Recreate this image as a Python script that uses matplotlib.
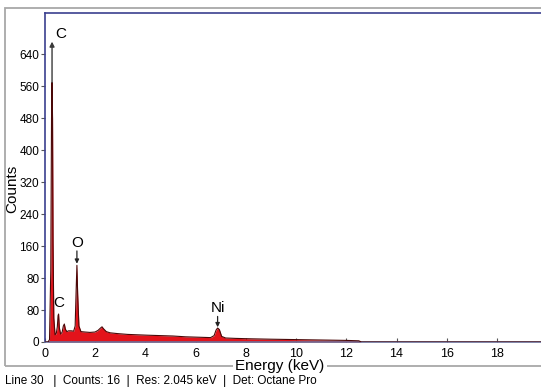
import matplotlib
matplotlib.use("Agg")
import matplotlib.pyplot as plt
from matplotlib.patches import Rectangle

plt.rcParams['font.family'] = ['Liberation Sans Narrow', 'Liberation Sans', 'DejaVu Sans']

# Spectrum (energy in keV, counts)
energy = [0.00, 0.13, 0.19, 0.24, 0.27, 0.29, 0.31, 0.33, 0.36, 0.41, 0.46, 0.50, 0.53, 0.55, 0.58,
          0.63, 0.69, 0.74, 0.78, 0.82, 0.88, 0.95, 1.05, 1.15, 1.21, 1.25, 1.28, 1.31, 1.36, 1.44,
          1.60, 1.80, 2.00, 2.12, 2.22, 2.28, 2.34, 2.45, 2.60, 2.90, 3.30, 3.70, 4.10, 4.60, 5.10,
          5.60, 6.10, 6.60, 6.74, 6.82, 6.88, 6.95, 7.04, 7.20, 7.60, 8.20, 9.00, 10.0, 11.0, 12.0,
          12.5, 12.6, 20.0]
counts = [0, 0, 6, 180, 560, 650, 560, 250, 60, 18, 22, 38, 66, 70, 36,
          20, 24, 40, 45, 32, 26, 28, 28, 27, 40, 130, 192, 120, 40, 26,
          25, 24, 25, 29, 35, 38, 33, 26, 23, 21, 19, 18, 17, 16, 15,
          13, 12, 11, 16, 30, 35, 31, 14, 10, 9, 8, 7, 6, 5, 4,
          3, 0, 0]

# Peak labels: (text, energy, label height, arrow start, arrow tip)
peak_names = ['C', 'O', 'Ni']
peak_energy = [0.29, 1.28, 6.88]
label_y = [772, 247, 85]
arrow_start = [650, 228, 64]
arrow_tip = [752, 196, 37]
small_c_label = ('C', 0.57, 97)

ytick_pos = [0, 80, 160, 240, 320, 400, 480, 560, 640, 720]
ytick_labels = ['0', '80', '80', '160', '240', '320', '400', '480', '560', '640']
xtick_pos = [0, 2, 4, 6, 8, 10, 12, 14, 16, 18]

W, H = 541, 388
fig = plt.figure(figsize=(W / 100, H / 100), dpi=100)

# Outer gray frame
fig.patches.append(Rectangle((5 / W, 1 - 366 / H), 560 / W, (366 - 8) / H,
                             transform=fig.transFigure, fill=False,
                             edgecolor='#a8a8a8', linewidth=1.3, zorder=0))

left, right = 44.75, 547.25
top, bottom = 12.5, 342
ax = fig.add_axes([left / W, 1 - bottom / H, (right - left) / W, (bottom - top) / H])
ax.set_xlim(0, 20)
ax.set_ylim(0, 825)

red = '#e3131b'
ax.fill_between(energy, counts, 0, color=red, linewidth=0, zorder=2)
ax.plot(energy, counts, color='#4a0808', linewidth=0.8, zorder=3)

navy = '#3b3f8f'
for s in ax.spines.values():
    s.set_color(navy)
    s.set_linewidth(1.2)
ax.spines['bottom'].set_color('#6a6f9a')

ax.set_xticks(xtick_pos)
ax.set_xticklabels([str(v) for v in xtick_pos])
ax.set_yticks(ytick_pos)
ax.set_yticklabels(ytick_labels)
ax.tick_params(axis='x', direction='in', length=3, color='#555555', labelsize=9, pad=4)
ax.tick_params(axis='y', direction='out', length=3, color='#555555', labelsize=8.5, pad=1)

ax.set_ylabel('Counts', fontsize=11)
ax.yaxis.set_label_coords(-0.051, 0.466)

fig.text(280 / W, 1 - 366 / H, 'Energy (keV)', ha='center', va='center', fontsize=11,
         bbox=dict(facecolor='white', edgecolor='none', pad=1.5))

# Peak annotations
for name, e, ly, a0, a1 in zip(peak_names, peak_energy, label_y, arrow_start, arrow_tip):
    if name == 'C':
        ax.annotate('', xy=(e, a1), xytext=(e, a0),
                    arrowprops=dict(arrowstyle='-|>', color='#3a3a3a', lw=1.0,
                                    mutation_scale=7, shrinkA=0, shrinkB=0), zorder=4)
        ax.text(e + 0.12, ly, name, ha='left', va='center', fontsize=11)
    else:
        ax.annotate('', xy=(e, a1), xytext=(e, a0),
                    arrowprops=dict(arrowstyle='-|>', color='#222222', lw=0.9,
                                    mutation_scale=6, shrinkA=0, shrinkB=0), zorder=4)
        ax.text(e, ly, name, ha='center', va='center', fontsize=11)
ax.text(small_c_label[1], small_c_label[2], small_c_label[0], ha='center', va='center',
        fontsize=11)

fig.text(5 / W, 1 - 381 / H,
         'Line 30   |  Counts: 16  |  Res: 2.045 keV  |  Det: Octane Pro',
         ha='left', va='center', fontsize=8.5)

fig.savefig('out.png', dpi=100)
